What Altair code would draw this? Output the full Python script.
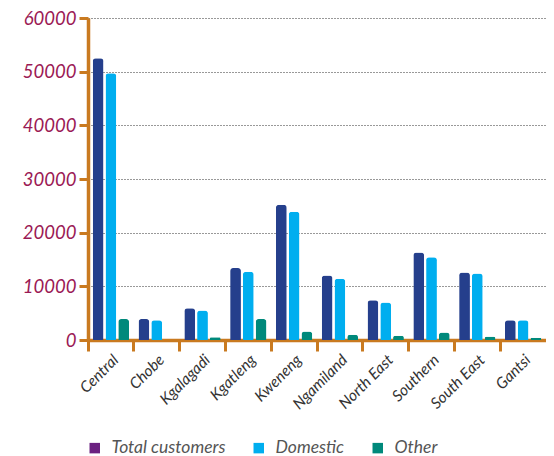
import altair as alt
import pandas as pd

regions = ["Central", "Chobe", "Kgalagadi", "Kgatleng", "Kweneng", "Ngamiland",
           "North East", "Southern", "South East", "Gantsi"]
total = [52500, 3900, 5900, 13400, 25200, 12000, 7400, 16300, 12600, 3700]
domestic = [49700, 3700, 5500, 12700, 23900, 11400, 7000, 15400, 12400, 3700]
other = [3900, 0, 500, 3900, 1600, 1000, 800, 1400, 600, 400]
series = ["Total customers", "Domestic", "Other"]
bar_colors = ["#253f8c", "#00aeef", "#00897b"]
legend_colors = ["#6b2180", "#00aeef", "#00897b"]
y_ticks = [0, 10000, 20000, 30000, 40000, 50000, 60000]

rows = []
for name, vals in zip(series, [total, domestic, other]):
    for r, v in zip(regions, vals):
        rows.append({"region": r, "series": name, "value": v})
df = pd.DataFrame(rows)

FONT = "Lato"
ORANGE = "#c97a20"
W, H = 458, 322

x_labels = alt.X("region:N", sort=regions, title=None,
                 scale=alt.Scale(paddingInner=0, paddingOuter=0),
                 axis=alt.Axis(orient="bottom", labelAngle=-45, labelAlign="right",
                               labelBaseline="top",
                               labelFont=FONT, labelFontStyle="italic", labelFontSize=15.5,
                               labelColor="#333333", domain=False, ticks=False,
                               grid=False, labelPadding=12))
x_ticks = alt.X("region:N", sort=regions, title=None,
                scale=alt.Scale(paddingInner=0, paddingOuter=0),
                axis=alt.Axis(orient="bottom", bandPosition=0, labels=False,
                              domainColor=ORANGE, domainWidth=3.5,
                              tickColor=ORANGE, tickWidth=3, tickSize=11, grid=False))
y = alt.Y("value:Q", title=None,
          scale=alt.Scale(domain=[0, 60000], nice=False),
          axis=alt.Axis(values=y_ticks, format="d", labelFont=FONT,
                        labelFontStyle="italic", labelFontSize=18.5,
                        labelColor="#9b1a55", domainColor=ORANGE, domainWidth=3.5,
                        tickColor=ORANGE, tickWidth=3, tickSize=9, labelPadding=3,
                        grid=True, gridColor="#333333", gridDash=[1, 2],
                        gridWidth=1))

bars = alt.Chart(df).mark_bar(cornerRadiusTopLeft=3, cornerRadiusTopRight=3).encode(
    x=x_labels, y=y,
    xOffset=alt.XOffset("series:N", sort=series,
                        scale=alt.Scale(paddingInner=0.154, paddingOuter=0.37)),
    color=alt.Color("series:N", sort=series,
                    scale=alt.Scale(domain=series, range=bar_colors), legend=None),
)

legend_layer = alt.Chart(df).mark_square(opacity=0, size=1).encode(
    x=x_ticks, y=y,
    fill=alt.Fill("series:N", sort=series,
                  scale=alt.Scale(domain=series, range=legend_colors),
                  legend=alt.Legend(title=None, orient="none", legendX=-2, legendY=421,
                                    direction="horizontal", symbolType="square",
                                    symbolSize=110, symbolOpacity=1, symbolStrokeWidth=0,
                                    labelFont=FONT, labelFontStyle="italic",
                                    labelFontSize=17.5, labelColor="#555555",
                                    labelOffset=8, columnPadding=24)),
)

chart = alt.layer(bars, legend_layer).resolve_scale(
    color="independent", fill="independent"
).resolve_axis(x="independent").properties(
    width=W, height=H,
    autosize=alt.AutoSizeParams(type="none"),
    padding={"left": 80, "top": 10, "right": 0, "bottom": 116},
).configure_view(stroke=None)

chart.save("out.html", embed_options={"renderer": "svg", "actions": False})
